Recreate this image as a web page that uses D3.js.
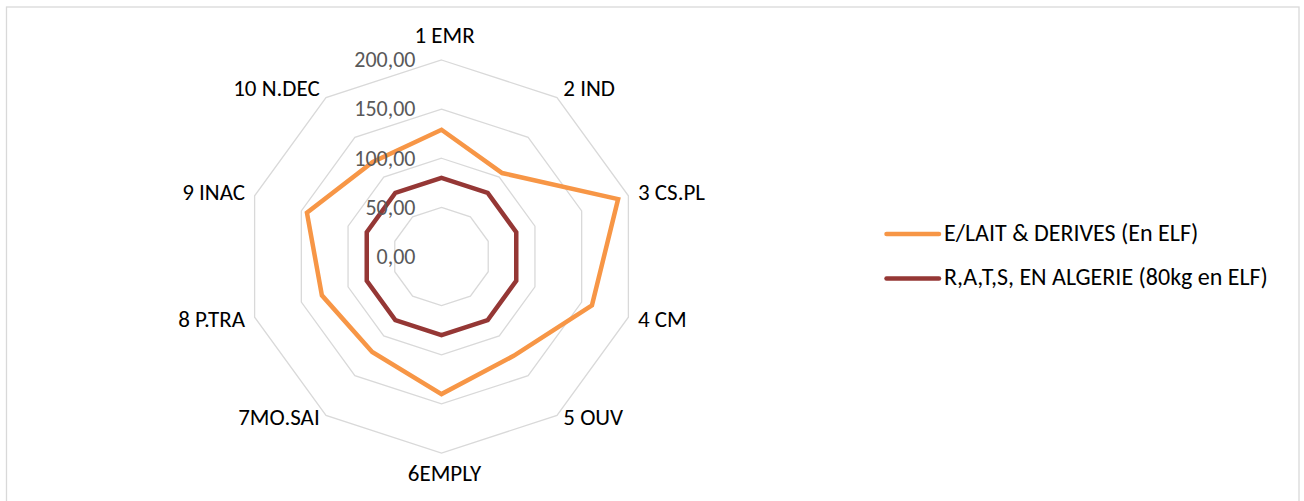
<!DOCTYPE html>
<html>
<head>
<meta charset="utf-8">
<script src="https://cdn.jsdelivr.net/npm/d3@7"></script>
<style>
  html, body { margin: 0; padding: 0; background: #ffffff; }
  svg { display: block; }
  text { font-family: Carlito, Lato, "Liberation Sans", sans-serif; }
</style>
</head>
<body>
<svg id="chart" width="1304" height="501"></svg>
<script>
// Axis categories, clockwise from the top
const categories = ["1 EMR", "2 IND", "3 CS.PL", "4 CM", "5 OUV", "6EMPLY", "7MO.SAI", "8 P.TRA", "9 INAC", "10 N.DEC"];

// Series values (ELF)
const laitValues = [129, 105, 189, 161, 125, 140, 120, 128, 144, 119];
const ratsValues = [80, 80, 80, 80, 80, 80, 80, 80, 80, 80];

// Radial ticks
const tickValues = [0, 50, 100, 150, 200];
const tickLabels = ["0,00", "50,00", "100,00", "150,00", "200,00"];

const seriesNames = ["E/LAIT & DERIVES (En ELF)", "R,A,T,S, EN ALGERIE (80kg en ELF)"];
const seriesColors = ["#F79646", "#953735"];

const svg = d3.select("#chart");

// Chart frame
svg.append("rect")
  .attr("x", 6.5).attr("y", 7)
  .attr("width", 1292.5).attr("height", 520)
  .attr("fill", "#ffffff")
  .attr("stroke", "#d9d9d9")
  .attr("stroke-width", 1.3);

const cx = 441.5, cy = 256.5, R = 196.5;
const r = d3.scaleLinear().domain([0, 200]).range([0, R]);
const angle = d3.scaleBand().domain(categories).range([0, 2 * Math.PI]).align(0).paddingInner(0).paddingOuter(0);
const ang = c => angle(c);

const g = svg.append("g").attr("transform", `translate(${cx},${cy})`);

const radial = d3.lineRadial()
  .angle(d => ang(d.c))
  .radius(d => r(d.v))
  .curve(d3.curveLinearClosed);

// Grid polygons
g.append("g").selectAll("path")
  .data(tickValues.filter(t => t > 0))
  .join("path")
  .attr("d", t => radial(categories.map(c => ({ c, v: t }))))
  .attr("fill", "none")
  .attr("stroke", "#d9d9d9")
  .attr("stroke-width", 1.3);

// Series polygons
const series = [laitValues, ratsValues];
g.append("g").selectAll("path")
  .data(series)
  .join("path")
  .attr("d", vals => radial(categories.map((c, i) => ({ c, v: vals[i] }))))
  .attr("fill", "none")
  .attr("stroke", (d, i) => seriesColors[i])
  .attr("stroke-width", 4.5)
  .attr("stroke-linejoin", "miter");

// Radial tick labels
g.append("g").selectAll("text")
  .data(tickValues)
  .join("text")
  .attr("x", -26)
  .attr("y", t => -r(t) + 2)
  .attr("text-anchor", "end")
  .attr("dominant-baseline", "middle")
  .attr("fill", "#595959")
  .attr("font-size", 22)
  .text((t, i) => tickLabels[i]);

// Category labels
const gap = 9;
g.append("g").selectAll("text")
  .data(categories)
  .join("text")
  .each(function (c) {
    const a = ang(c);
    const s = Math.sin(a), co = Math.cos(a);
    const x = (R + gap) * s;
    const y = -(R + gap) * co;
    const t = d3.select(this);
    let anchor = "middle", dy = 0;
    if (Math.abs(s) > 0.1) anchor = s > 0 ? "start" : "end";
    if (co > 0.9) dy = -13;
    else if (co < -0.9) dy = 14;
    else if (co < -0.5) dy = -3;
    else if (co > 0.5) dy = 0;
    else dy = 1.5;
    t.attr("x", x + (anchor === "start" ? 1 : anchor === "end" ? -1 : 3))
      .attr("y", y + dy)
      .attr("text-anchor", anchor)
      .attr("dominant-baseline", "middle");
  })
  .attr("fill", "#000000")
  .attr("font-size", 23)
  .text(c => c);

// Legend
const legend = svg.append("g").attr("transform", "translate(885,234)");
const items = legend.selectAll("g")
  .data(seriesNames)
  .join("g")
  .attr("transform", (d, i) => `translate(0,${i * 44.5})`);
items.append("line")
  .attr("x1", 1.5).attr("x2", 54)
  .attr("y1", 0).attr("y2", 0)
  .attr("stroke", (d, i) => seriesColors[i])
  .attr("stroke-width", 4.5)
  .attr("stroke-linecap", "round");
items.append("text")
  .attr("x", 59)
  .attr("y", 1)
  .attr("dominant-baseline", "middle")
  .attr("fill", "#000000")
  .attr("font-size", 24)
  .text(d => d);
</script>
</body>
</html>
